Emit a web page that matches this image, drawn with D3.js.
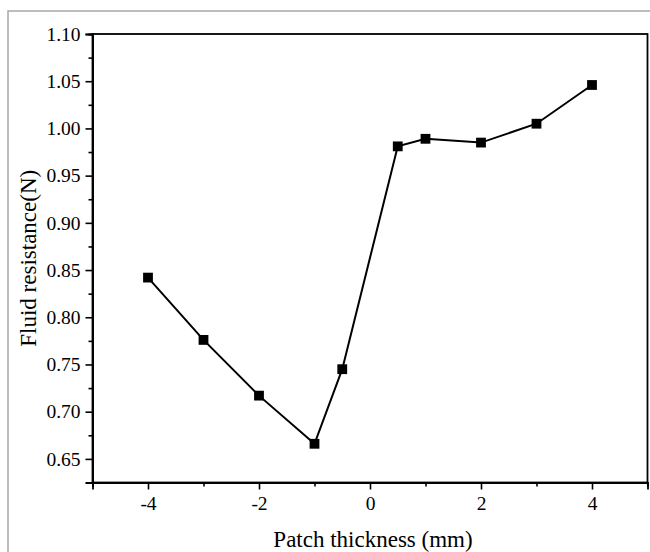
<!DOCTYPE html>
<html>
<head>
<meta charset="utf-8">
<script src="https://cdn.jsdelivr.net/npm/d3@7"></script>
<style>
  html, body { margin: 0; padding: 0; background: #fff; }
  svg { display: block; }
</style>
</head>
<body>
<svg id="chart" width="650" height="552"></svg>
<script>
const thickness = [-4, -3, -2, -1, -0.5, 0.5, 1, 2, 3, 4];
const resistance = [0.842, 0.776, 0.717, 0.666, 0.745, 0.981, 0.989, 0.985, 1.005, 1.046];
const xMajorTicks = [-4, -2, 0, 2, 4];
const xMinorTicks = [-5, -3, -1, 1, 3, 5];
const yMajorTicks = [0.65, 0.70, 0.75, 0.80, 0.85, 0.90, 0.95, 1.00, 1.05, 1.10];
const yMinorTicks = [0.625, 0.675, 0.725, 0.775, 0.825, 0.875, 0.925, 0.975, 1.025, 1.075];
const xTitle = "Patch thickness (mm)";
const yTitle = "Fluid resistance(N)";

const svg = d3.select("#chart");
const W = 650, H = 552;
const m = { left: 92.5, right: 2.5, top: 34, bottom: 69.5 };
const x = d3.scaleLinear().domain([-5, 5]).range([m.left, W - m.right]);
const y = d3.scaleLinear().domain([0.625, 1.10]).range([H - m.bottom, m.top]);
const font = "'Liberation Serif', 'Times New Roman', serif";

// outer gray frame (top and left visible)
svg.append("path")
  .attr("d", `M8,552 L8,11 L650,11`)
  .attr("fill", "none").attr("stroke", "#a8a8a8").attr("stroke-width", 1.5);

// plot box
svg.append("rect")
  .attr("x", m.left).attr("y", m.top)
  .attr("width", W - m.right - m.left).attr("height", H - m.bottom - m.top)
  .attr("fill", "none").attr("stroke", "#000").attr("stroke-width", 1.8);

// x axis
const xAxisMinor = d3.axisBottom(x).tickValues(xMinorTicks).tickSize(4).tickFormat("");
const xAxisMajor = d3.axisBottom(x).tickValues(xMajorTicks).tickSize(7).tickPadding(7)
  .tickFormat(d => d3.format("d")(d).replace("−", "-"));
const gxm = svg.append("g").attr("transform", `translate(0,${H - m.bottom})`).call(xAxisMinor);
const gx = svg.append("g").attr("transform", `translate(0,${H - m.bottom})`).call(xAxisMajor);

// y axis
const yAxisMinor = d3.axisLeft(y).tickValues(yMinorTicks).tickSize(4).tickFormat("");
const yAxisMajor = d3.axisLeft(y).tickValues(yMajorTicks).tickSize(7).tickPadding(5)
  .tickFormat(d3.format(".2f"));
const gym = svg.append("g").attr("transform", `translate(${m.left},0)`).call(yAxisMinor);
const gy = svg.append("g").attr("transform", `translate(${m.left},0)`).call(yAxisMajor);

[gx, gxm, gy, gym].forEach(g => {
  g.select(".domain").attr("stroke", "#000").attr("stroke-width", 1.8);
  g.selectAll(".tick line").attr("stroke", "#000").attr("stroke-width", 1.6);
  g.selectAll(".tick text").attr("fill", "#000")
    .style("font-family", font).style("font-size", "19.5px");
});

// line
const line = d3.line().x((d, i) => x(thickness[i])).y(d => y(d));
svg.append("path")
  .datum(resistance)
  .attr("d", line)
  .attr("fill", "none").attr("stroke", "#000").attr("stroke-width", 2);

// markers
svg.append("g").selectAll("path")
  .data(resistance)
  .join("path")
  .attr("transform", (d, i) => `translate(${x(thickness[i])},${y(d)})`)
  .attr("d", d3.symbol().type(d3.symbolSquare).size(96))
  .attr("fill", "#000");

// axis titles
svg.append("text")
  .attr("x", (m.left + W - m.right) / 2 + 3).attr("y", 546.5)
  .attr("text-anchor", "middle")
  .style("font-family", font).style("font-size", "23px")
  .text(xTitle);

svg.append("text")
  .attr("transform", `translate(36,${(m.top + H - m.bottom) / 2}) rotate(-90)`)
  .attr("text-anchor", "middle")
  .style("font-family", font).style("font-size", "23px")
  .text(yTitle);
</script>
</body>
</html>
